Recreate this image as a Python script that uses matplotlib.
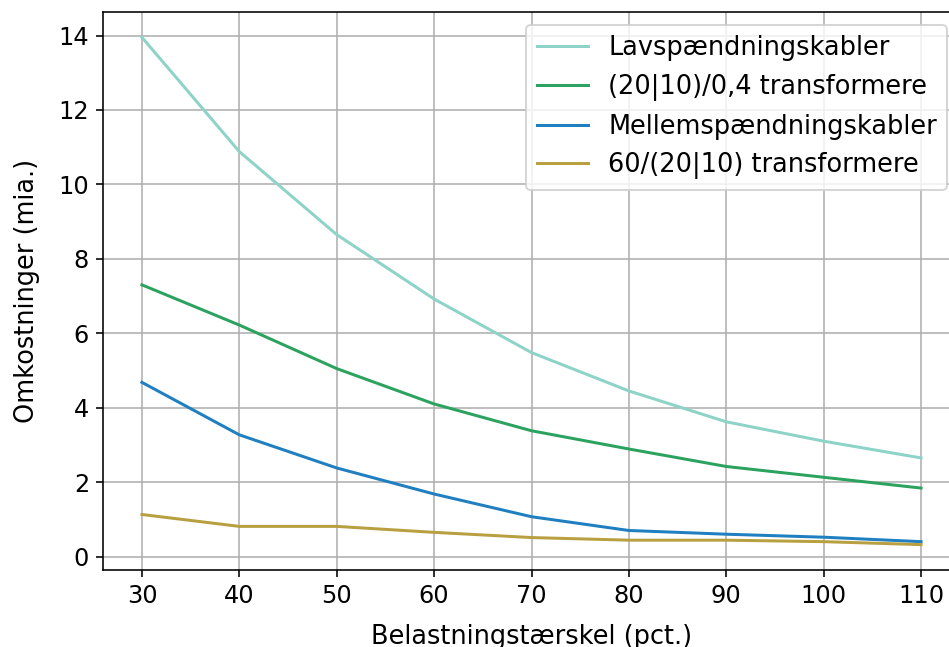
import matplotlib
matplotlib.use("Agg")
import matplotlib.pyplot as plt

# belastningstærskel (pct.)
taerskel = [30, 40, 50, 60, 70, 80, 90, 100, 110]

lav_kabler = [13.95, 10.88, 8.65, 6.92, 5.48, 4.45, 3.62, 3.10, 2.65]
trafo_04 = [7.30, 6.22, 5.05, 4.10, 3.38, 2.89, 2.42, 2.13, 1.84]
mellem_kabler = [4.68, 3.27, 2.38, 1.68, 1.07, 0.70, 0.60, 0.52, 0.40]
trafo_60 = [1.13, 0.81, 0.81, 0.65, 0.51, 0.44, 0.44, 0.40, 0.32]

labels = ["Lavspændningskabler", "(20|10)/0,4 transformere",
          "Mellemspændningskabler", "60/(20|10) transformere"]
colors = ["#8dd3c7", "#2ca25f", "#1f7fc0", "#b8a040"]

plt.rcParams["font.size"] = 12

fig = plt.figure(figsize=(949 / 144, 647 / 144), dpi=144)
ax = fig.add_axes([103 / 949, 77 / 647, 857 / 949, 558 / 647])

for vals, lab, col in zip([lav_kabler, trafo_04, mellem_kabler, trafo_60], labels, colors):
    ax.plot(taerskel, vals, color=col, linewidth=1.5, label=lab)

ax.set_xticks(taerskel)
ax.grid(True)
ax.set_xlabel("Belastningstærskel (pct.)", fontsize=12.8, labelpad=8)
ax.set_ylabel("Omkostninger (mia.)", fontsize=12.8, labelpad=9)
ax.legend(loc="upper right", fontsize=12.8)

fig.savefig("out.png", dpi=144)
